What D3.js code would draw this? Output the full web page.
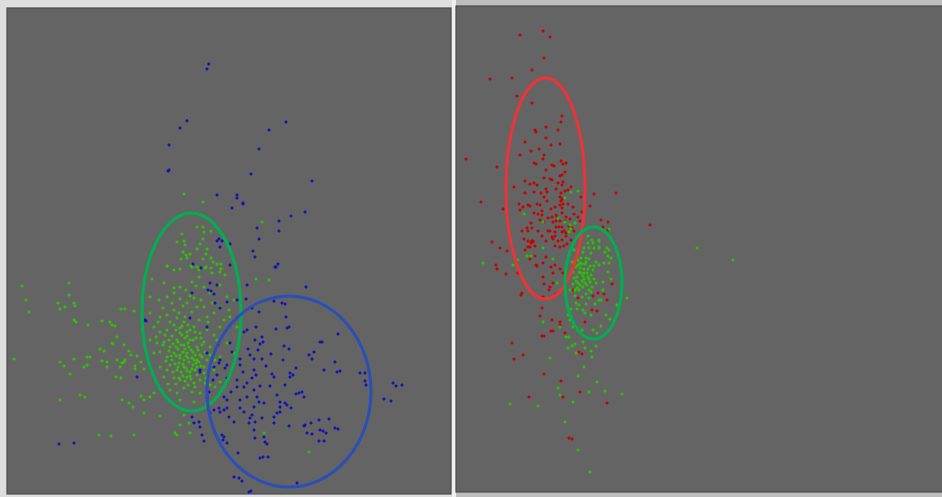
<!DOCTYPE html>
<html>
<head>
<meta charset="utf-8">
<script src="https://cdn.jsdelivr.net/npm/d3@7"></script>
<style>
  body { margin: 0; background: #e4e4e4; }
  svg { display: block; }
</style>
</head>
<body>
<svg id="chart"></svg>
<script>
// points, in the plot's own units
var leftBlue = [
  [208.7,64],[207,69],[187,120.7],[180,128],[169,145],[169,170],[168,171],[286,122],[269,130],[259,149],
  [251,174],[312,181],[217,195],[237,195],[237,198],[243,203],[243,204],[232,208],[305,212],[291,216],
  [279,221],[257,228],[279,231],[259,239],[219,239],[217,241],[222,241],[230,244],[220,247],[253,251],
  [255,257],[278,264],[275,267],[193,264],[201,268],[230,265],[276,267],[247,285],[306,287],[210,283],
  [217,285],[208,290],[211,291],[192,293],[214,294],[246,299],[237,300],[227,302],[215,303],[220,308],
  [252,308],[259,312],[274,301],[282,303],[285,304],[286,317],[190,318],[145,320],[146,321],[207,327],
  [247,330],[244,332],[256,327],[276,329],[287,328],[289,327],[338,334],[262,337],[255,340],[263,342],
  [260,344],[320,342],[322,342],[207,353],[230,343],[248,349],[284,346],[289,349],[314,352],[309,355],
  [312,359],[240,359],[250,355],[254,359],[262,359],[271,354],[220,360],[219,363],[227,365],[214,367],
  [225,368],[240,365],[254,370],[256,375],[324,370],[335,362],[337,372],[340,371],[360,373],[365,373],
  [365,381],[366,385],[393,383],[396,386],[402,385],[384,399],[391,401],[137,377],[200,370],[200,372],
  [217,375],[227,378],[237,380],[237,387],[244,387],[247,383],[252,378],[260,386],[254,390],[270,386],
  [274,377],[272,374],[290,377],[293,375],[285,385],[296,394],[299,393],[302,392],[304,397],[277,395],
  [280,402],[285,403],[287,405],[291,408],[280,407],[290,373],[224,397],[227,400],[240,400],[247,397],
  [257,397],[259,402],[254,407],[264,403],[207,398],[214,410],[210,413],[219,408],[220,412],[224,410],
  [227,408],[229,417],[234,422],[240,408],[244,412],[252,415],[250,418],[249,423],[255,422],[274,417],
  [274,423],[277,413],[280,412],[289,426],[304,426],[305,425],[311,423],[319,420],[329,419],[307,433],
  [312,434],[320,430],[323,431],[326,433],[335,428],[338,429],[319,441],[324,441],[192,417],[194,423],
  [199,422],[200,427],[202,435],[204,441],[222,435],[224,437],[223,440],[227,443],[254,430],[255,438],
  [264,437],[265,442],[267,444],[238,453],[260,458],[263,457],[268,457],[59,444],[74,443],[234,477],
  [239,478],[242,481],[297,483],[249,492],[251,491],[213,380],[231,392],[243,372],[266,366],[258,350],
  [232,352],[218,345],[209,392],[262,418],[283,360],[296,368]
];

var leftGreen = [
  [184,194],[203,202],[262,222],[197,227],[203,227],[204,232],[211,231],[182,234],[177,242],[184,241],
  [200,244],[203,239],[185,245],[197,249],[207,249],[183,252],[186,255],[190,254],[206,254],[181,259],
  [187,258],[203,259],[211,258],[213,262],[217,264],[221,264],[167,266],[191,266],[197,267],[205,268],
  [211,268],[221,269],[22,286],[26,300],[29,312],[69,283],[69,295],[74,303],[75,306],[58,303],
  [60,309],[65,307],[74,320],[76,322],[88,325],[102,321],[110,322],[112,325],[115,326],[121,309],
  [125,309],[134,311],[117,337],[112,343],[113,344],[104,351],[100,349],[124,345],[129,351],[131,355],
  [14,359],[60,362],[74,359],[64,366],[70,374],[87,357],[90,357],[84,367],[87,365],[102,361],
  [107,362],[107,367],[117,360],[122,363],[124,362],[125,360],[120,367],[116,377],[121,378],[135,366],
  [135,369],[137,356],[141,362],[144,369],[60,400],[80,395],[85,397],[122,400],[129,403],[133,407],
  [141,396],[144,400],[144,413],[150,397],[154,393],[160,416],[99,435],[111,436],[134,435],[175,433],
  [177,435],[180,425],[189,423],[190,433],[184,415],[256,279],[269,280],[264,433],[309,452],
  [167,266],[174,270],[180,269],[192,267],[199,270],[206,267],[212,273],[220,272],[225,275],[152,279],
  [164,283],[174,288],[180,287],[192,282],[199,277],[204,287],[210,293],[220,285],[227,297],[234,300],
  [150,297],[159,300],[167,297],[174,293],[180,299],[187,303],[194,298],[197,307],[204,307],[212,303],
  [220,307],[229,310],[150,313],[160,317],[167,315],[174,310],[179,313],[185,317],[192,312],[199,320],
  [207,317],[214,313],[224,320],[230,317],[237,327],[154,327],[160,332],[167,330],[174,325],[180,328],
  [187,332],[194,327],[200,333],[207,330],[214,335],[220,327],[150,340],[157,343],[164,342],[170,347],
  [177,340],[184,345],[190,340],[197,347],[204,342],[210,347],[217,340],[227,343],[154,353],[160,352],
  [167,357],[174,353],[180,358],[187,353],[194,360],[200,355],[207,360],[220,357],[234,353],[160,367],
  [170,365],[177,370],[184,367],[190,372],[197,367],[204,373],[214,370],[164,377],[174,378],[180,380],
  [187,377],[194,383],[200,380],[210,385],[220,382],[170,390],[177,393],[184,388],[192,392],[200,393],
  [215,387],[180,400],[194,402],[207,403],
  [182,335],[185,338],[188,343],[178,349],[183,352],[186,356],[191,350],[195,355],[189,362],[184,360],
  [179,363],[176,356],[193,365],[197,360],[186,368],[181,372],[190,376],[195,370],[201,366],[178,342],
  [172,336],[169,351],[172,360],[176,384],[188,385],[205,352],[202,345],[196,338],[190,330],[184,322],
  [177,318],[170,322],[165,335],[163,345],[166,361],[173,372],[168,384],[206,378],[211,365],[213,353],
  [196,286],[190,296],[183,306],[201,300],[186,290],[208,322],[172,303],[163,308],[158,322],[156,337],
  [180,333],[187,336],[193,340],[181,345],[176,347],[189,347],[193,352],[198,350],[185,349],[180,355],
  [188,358],[192,358],[196,363],[183,364],[178,367],[187,371],[192,369],[197,375],[183,376],[179,378],
  [185,381],[191,379],[173,344],[171,356],[175,364],[202,357],[199,362],[204,367],[182,326],[188,325],
  [176,330],[195,332],[201,338],[169,340],[167,370],[195,387],[205,383],[209,373],[215,360],[210,355]
];

var rightRed = [
  [520,35],[543,31],[550,37],[544,58],[532,70],[512,78],[490,79],[517,96],[532,103],[466,159],
  [497,167],[481,202],[503,209],[492,242],[500,248],[562,116],[561,122],[546,127],[558,130],[535,130],
  [536,132],[546,138],[525,142],[560,144],[551,145],[539,149],[531,151],[520,155],[544,155],[543,159],
  [561,161],[534,163],[536,164],[552,165],[554,166],[563,164],[566,163],[546,170],[565,172],[560,176],
  [562,175],[544,178],[550,179],[552,180],[525,181],[534,183],[530,184],[537,185],[558,183],[563,182],
  [514,187],[546,189],[556,189],[562,185],[571,187],[568,190],[541,193],[547,192],[534,192],[525,193],
  [561,193],[565,191],[594,194],[616,193],[581,197],[560,197],[544,197],[547,201],[561,201],[562,199],
  [590,206],[519,204],[528,205],[530,206],[537,204],[540,205],[523,207],[520,210],[542,211],[551,209],
  [555,207],[560,205],[563,204],[568,204],[573,207],[562,208],[582,212],[534,213],[538,214],[542,215],
  [556,215],[557,217],[562,213],[574,214],[548,218],[552,217],[566,217],[570,219],[578,217],[540,220],
  [544,222],[553,222],[556,221],[560,221],[565,221],[580,221],[601,220],[608,222],[531,223],[527,228],
  [532,228],[556,227],[559,227],[562,227],[569,226],[572,228],[603,227],[608,230],[650,225],[522,231],
  [528,231],[538,231],[548,231],[550,231],[555,232],[562,232],[564,231],[566,233],[574,231],[542,236],
  [555,236],[566,236],[552,237],[524,239],[532,241],[533,241],[546,241],[553,239],[558,241],[562,240],
  [571,240],[528,247],[535,246],[555,246],[560,247],[564,246],[567,244],
  [507,251],[528,241],[531,243],[533,242],[530,247],[525,250],[535,256],[517,261],[530,259],[536,265],
  [537,266],[496,265],[497,269],[506,274],[518,273],[543,263],[546,257],[551,267],[555,265],[553,273],
  [560,269],[563,273],[543,277],[553,283],[550,287],[544,284],[549,290],[522,293],[521,295],[543,297],
  [556,294],[573,290],[578,298],[598,293],[604,294],[607,300],[593,296],[612,284],[542,308],[540,316],
  [552,320],[560,322],[560,325],[585,322],[592,310],[597,311],[542,336],[544,336],[551,331],[553,331],
  [565,333],[512,343],[523,355],[514,359],[579,352],[582,354],[544,374],[561,381],[580,392],[563,397],
  [529,397],[607,403],[569,438],[572,439]
];

var rightGreen = [
  [571,192],[578,191],[565,198],[524,214],[558,218],[543,222],[565,222],[570,225],[575,223],[571,229],
  [569,232],[609,229],[588,236],[592,240],[599,240],[588,243],[594,248],[599,248],[607,248],[543,248],
  [584,248],[483,263],[527,256],[531,256],[513,265],[518,260],[553,259],[557,283],[569,255],[574,250],
  [583,252],[589,248],[593,243],[599,241],[599,247],[605,252],[609,250],[608,256],[611,258],[609,263],
  [604,263],[599,265],[591,253],[589,259],[585,264],[580,263],[576,267],[573,272],[579,272],[584,273],
  [588,269],[591,275],[589,279],[594,279],[585,283],[578,283],[573,284],[570,290],[575,290],[583,287],
  [589,290],[596,283],[603,282],[603,290],[608,272],[611,279],[582,297],[576,303],[571,309],[577,309],
  [583,310],[585,313],[591,315],[599,300],[601,300],[606,315],[610,319],[601,326],[617,305],[627,298],
  [568,315],[570,320],[543,322],[560,327],[573,327],[582,330],[593,330],[597,333],[566,337],[569,337],
  [583,342],[575,344],[568,348],[572,346],[585,348],[576,353],[591,351],[596,346],[592,357],[550,358],
  [584,367],[578,376],[558,388],[560,395],[589,392],[597,382],[605,391],[622,394],[573,402],[510,404],
  [538,406],[565,422],[578,450],[590,472],[697,248],[733,260],
  [580,268],[583,276],[586,262],[577,277],[590,266],[582,281],[587,285],[592,287],[579,290],[586,294],
  [575,296],[593,270],[596,262],[574,278],[581,258],[589,298],[595,304],[579,305],[586,304],[572,262],
  [578,265],[584,269],[587,273],[581,273],[576,281],[590,282],[584,279],[588,277],[580,285],[577,288],
  [594,266],[582,264],[578,260],[586,258],[591,292]
];

// cluster ellipses (centre and half axes, same units)
var leftEllipses = [[191.5,312,49.5,99],[289,391.5,82,95.5]];
var rightEllipses = [[545.5,188.5,39.5,110.5],[593.5,283,28.5,56]];

var W = 942, H = 497;
var svg = d3.select("#chart").attr("width", W).attr("height", H);

// surrounding strips
svg.append("rect").attr("x", 0).attr("y", 0).attr("width", 454).attr("height", H).attr("fill", "#dedede");
svg.append("rect").attr("x", 452).attr("y", 0).attr("width", 4).attr("height", H).attr("fill", "#efefef");
svg.append("rect").attr("x", 456).attr("y", 0).attr("width", W - 456).attr("height", H).attr("fill", "#bdbdbd");

var cross = "M-1.5,0H1.5M0,-1.5V1.5";

function drawPanel(box, groups, ellipses, ellColors) {
  var g = svg.append("g").attr("transform", "translate(" + box.x + "," + box.y + ")");
  var x = d3.scaleLinear().domain([box.x, box.x + box.w]).range([0, box.w]);
  var y = d3.scaleLinear().domain([box.y, box.y + box.h]).range([0, box.h]);

  g.append("rect").attr("width", box.w).attr("height", box.h)
    .attr("fill", "#646464").attr("stroke", "#4b4b4b").attr("stroke-width", 1.2);

  groups.forEach(function(s) {
    g.append("g").selectAll("path").data(s.pts).enter().append("path")
      .attr("d", cross)
      .attr("transform", function(d) { return "translate(" + x(d[0]) + "," + y(d[1]) + ")"; })
      .attr("stroke", s.color).attr("stroke-width", 1.6).attr("fill", "none");
  });

  g.append("g").selectAll("ellipse").data(ellipses).enter().append("ellipse")
    .attr("cx", function(d) { return x(d[0]); })
    .attr("cy", function(d) { return y(d[1]); })
    .attr("rx", function(d) { return x(d[0] + d[2]) - x(d[0]); })
    .attr("ry", function(d) { return y(d[1] + d[3]) - y(d[1]); })
    .attr("fill", "none")
    .attr("stroke", function(d, i) { return ellColors[i]; })
    .attr("stroke-width", 3);
}

drawPanel({x: 7, y: 8, w: 444, h: 486},
  [{pts: leftGreen, color: "#2ec400"}, {pts: leftBlue, color: "#1010b4"}],
  leftEllipses, ["#00b050", "#2a4fb8"]);

drawPanel({x: 456, y: 6, w: 490, h: 486},
  [{pts: rightRed, color: "#c80000"}, {pts: rightGreen, color: "#22c800"}],
  rightEllipses, ["#ec3438", "#00b050"]);
</script>
</body>
</html>
